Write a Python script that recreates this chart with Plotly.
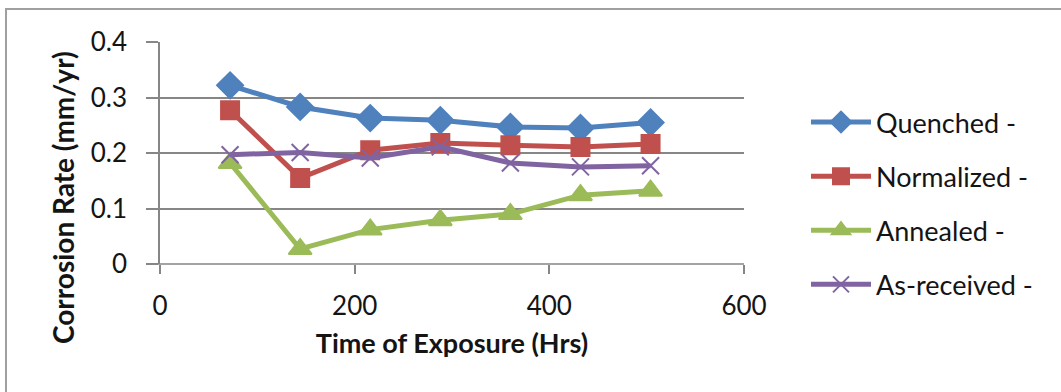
import plotly.graph_objects as go

# Exposure times (hours) and corrosion rates (mm/yr) per heat treatment
hours = [72, 144, 216, 288, 360, 432, 504]
quenched = [0.322, 0.283, 0.263, 0.259, 0.247, 0.245, 0.255]
normalized = [0.277, 0.155, 0.205, 0.218, 0.214, 0.211, 0.216]
annealed = [0.182, 0.027, 0.062, 0.079, 0.090, 0.124, 0.132]
as_received = [0.197, 0.201, 0.191, 0.211, 0.182, 0.175, 0.177]

series = [
    ("Quenched -", quenched, "#4F81BD", "diamond", 20),
    ("Normalized -", normalized, "#C0504D", "square", 18),
    ("Annealed -", annealed, "#9BBB59", "triangle-up", 20),
    ("As-received -", as_received, "#8064A2", "x-thin-open", 17),
]

FONT = "Lato, 'Open Sans', sans-serif"
TXT = "#141414"

fig = go.Figure()
for i, (name, vals, color, symbol, size) in enumerate(series):
    fig.add_trace(go.Scatter(
        x=hours, y=vals, name=name, mode="lines+markers",
        legendgroup=f"g{i}",
        line=dict(color=color, width=5),
        marker=dict(symbol=symbol, size=size, color=color,
                    line=dict(color=color, width=2)),
    ))

L, R, T, B = 160, 744, 42, 264
W, H = 1061, 392
pw, ph = R - L, B - T

fig.update_layout(
    width=W, height=H,
    margin=dict(l=L, r=W - R, t=T, b=H - B),
    paper_bgcolor="white", plot_bgcolor="white",
    font=dict(family=FONT, size=26, color=TXT),
    showlegend=True,
    legend=dict(
        x=(806 - L) / pw, y=(B - 98) / ph, xanchor="left", yanchor="top",
        font=dict(size=27, family=FONT, color=TXT), tracegroupgap=16,
        bgcolor="rgba(0,0,0,0)", itemwidth=60,
    ),
    xaxis=dict(
        range=[0, 600], tickvals=[0, 200, 400, 600],
        showgrid=False, zeroline=False,
        showline=False, ticks="outside", ticklen=9, tickcolor="#868686",
        tickwidth=1.5, ticklabelstandoff=10,
        tickfont=dict(size=26, family=FONT, color=TXT),
        title=dict(text="<b>Time of Exposure (Hrs)</b>", standoff=13,
                   font=dict(size=27, family=FONT, color=TXT)),
    ),
    yaxis=dict(
        range=[0, 0.4], tickvals=[0, 0.1, 0.2, 0.3, 0.4],
        ticktext=["0", "0.1", "0.2", "0.3", "0.4"],
        showgrid=True, gridcolor="#868686", gridwidth=1.5,
        zeroline=False, showline=True, linecolor="#868686", linewidth=1.5,
        ticks="outside", ticklen=12, tickcolor="#868686", tickwidth=1.5,
        ticklabelstandoff=14,
        tickfont=dict(size=26, family=FONT, color=TXT),
    ),
    annotations=[
        dict(text="<b>Corrosion Rate (mm/yr)</b>", textangle=-90,
             xref="paper", yref="paper",
             x=(63 - L) / pw, y=(B - 198) / ph,
             xanchor="center", yanchor="middle", showarrow=False,
             font=dict(size=28, family=FONT, color=TXT)),
    ],
    shapes=[
        # x-axis baseline extended left over the y tick
        dict(type="line", xref="paper", yref="paper",
             x0=(148 - L) / pw, x1=1, y0=0, y1=0,
             line=dict(color="#868686", width=1.5)),
        # chart frame
        dict(type="rect", xref="paper", yref="paper",
             x0=(6 - L) / pw, x1=(1070 - L) / pw,
             y0=(B - 400) / ph, y1=(B - 9) / ph,
             line=dict(color="#A0A0A0", width=2), layer="below"),
    ],
)

fig.write_html("out.html")
